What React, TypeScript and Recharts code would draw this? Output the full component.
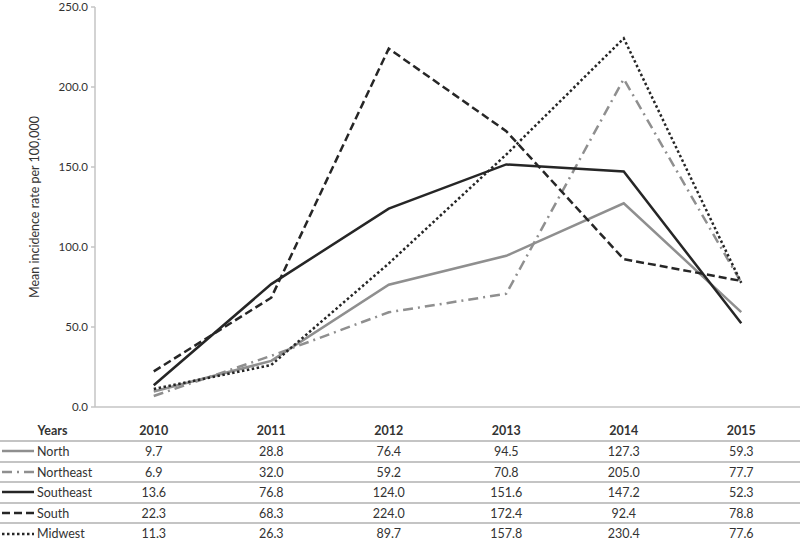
import React from 'react';
import { LineChart, Line, XAxis, YAxis } from 'recharts';

const years = ['2010', '2011', '2012', '2013', '2014', '2015'];
const regions = ['North', 'Northeast', 'Southeast', 'South', 'Midwest'];
const north = [9.7, 28.8, 76.4, 94.5, 127.3, 59.3];
const northeast = [6.9, 32.0, 59.2, 70.8, 205.0, 77.7];
const southeast = [13.6, 76.8, 124.0, 151.6, 147.2, 52.3];
const south = [22.3, 68.3, 224.0, 172.4, 92.4, 78.8];
const midwest = [11.3, 26.3, 89.7, 157.8, 230.4, 77.6];
const yTicks = [0, 50, 100, 150, 200, 250];

const values: Record<string, number[]> = {
  North: north,
  Northeast: northeast,
  Southeast: southeast,
  South: south,
  Midwest: midwest,
};

const lineStyle: Record<string, { color: string; dash?: string }> = {
  North: { color: '#8f8f8f' },
  Northeast: { color: '#8f8f8f', dash: '10 5 2 5' },
  Southeast: { color: '#262626' },
  South: { color: '#262626', dash: '8 4' },
  Midwest: { color: '#262626', dash: '2.5 2.5' },
};

const data = years.map((y, i) => {
  const row: Record<string, any> = { year: y };
  regions.forEach((r) => (row[r] = values[r][i]));
  return row;
});

const FONT = 'Lato, "Open Sans", sans-serif';
const TEXT = '#333333';
const RULE = '#c4c4c4';
const PLOT_LEFT = 95;
const COL_W = (800 - PLOT_LEFT) / years.length;
const HEADER_H = 35;
const ROW_H = 20.6;

const YLabel: React.FC<any> = ({ viewBox }) => {
  const cy = viewBox ? viewBox.y + viewBox.height / 2 : 207;
  return (
    <text
      x={0}
      y={0}
      transform={`translate(39, ${cy}) rotate(-90)`}
      textAnchor="middle"
      fill={TEXT}
      fontSize={12.5}
      fontFamily={FONT}
    >
      Mean incidence rate per 100,000
    </text>
  );
};

const LegendSample: React.FC<{ region: string }> = ({ region }) => {
  const s = lineStyle[region];
  return (
    <svg width={34} height={10} style={{ position: 'absolute', left: 1, top: ROW_H / 2 - 6 }}>
      <line x1={1} y1={5} x2={33} y2={5} stroke={s.color} strokeWidth={2.5} strokeDasharray={s.dash} />
    </svg>
  );
};

const App: React.FC = () => {
  return (
    <div style={{ position: 'absolute', left: 0, top: 0, width: 800, height: 540, background: '#fff', overflow: 'hidden', fontFamily: FONT, color: TEXT }}>
      <LineChart width={800} height={420} data={data} margin={{ top: 7, right: 0, bottom: 10, left: 0 }}>
        <XAxis
          dataKey="year"
          scale="band"
          height={3}
          tick={false}
          tickLine={false}
          axisLine={{ stroke: RULE, strokeWidth: 1.5 }}
        />
        <YAxis
          width={PLOT_LEFT}
          domain={[0, 250]}
          ticks={yTicks}
          interval={0}
          tickFormatter={(v: number) => v.toFixed(1)}
          tickSize={4}
          tickMargin={3}
          tickLine={{ stroke: RULE, strokeWidth: 1.5 }}
          axisLine={{ stroke: RULE, strokeWidth: 1.5 }}
          tick={{ fill: TEXT, fontSize: 11.5, fontFamily: FONT }}
          label={{ content: <YLabel /> }}
        />
        {regions.map((r) => (
          <Line
            key={r}
            type="linear"
            dataKey={r}
            stroke={lineStyle[r].color}
            strokeWidth={2.5}
            strokeDasharray={lineStyle[r].dash}
            dot={false}
            activeDot={false}
            isAnimationActive={false}
          />
        ))}
      </LineChart>

      <div style={{ position: 'absolute', left: 0, top: 407, width: 800 }}>
        <div style={{ position: 'relative', height: HEADER_H, borderBottom: `2px solid ${RULE}`, boxSizing: 'border-box', fontWeight: 700, fontSize: 12.5 }}>
          <div style={{ position: 'absolute', left: 0, width: PLOT_LEFT + 10, bottom: 2, textAlign: 'center' }}>Years</div>
          {years.map((y, i) => (
            <div key={y} style={{ position: 'absolute', left: PLOT_LEFT + i * COL_W, width: COL_W, bottom: 2, textAlign: 'center' }}>
              {y}
            </div>
          ))}
        </div>
        {regions.map((r) => (
          <div key={r} style={{ position: 'relative', height: ROW_H, borderBottom: `2px solid ${RULE}`, boxSizing: 'border-box', fontSize: 12.5, lineHeight: `${ROW_H}px` }}>
            <LegendSample region={r} />
            <div style={{ position: 'absolute', left: 37, top: 0 }}>{r}</div>
            {values[r].map((v, i) => (
              <div key={i} style={{ position: 'absolute', left: PLOT_LEFT + i * COL_W, width: COL_W, top: 0, textAlign: 'center' }}>
                {v.toFixed(1)}
              </div>
            ))}
          </div>
        ))}
      </div>
    </div>
  );
};

export default App;
